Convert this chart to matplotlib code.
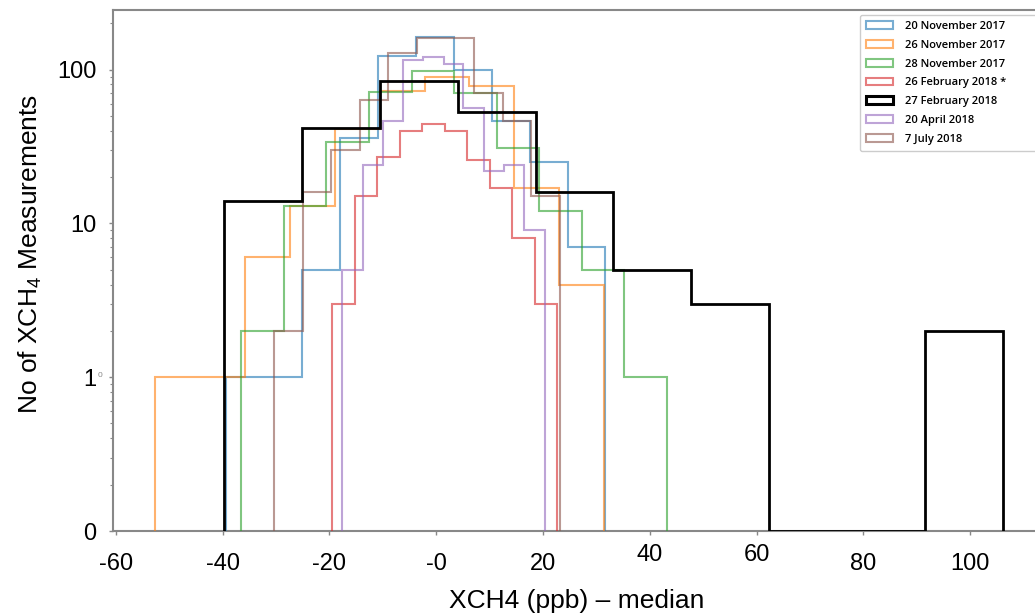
import matplotlib
matplotlib.use("Agg")
import matplotlib.pyplot as plt
import matplotlib.transforms as mtransforms
from matplotlib.patches import Patch
from matplotlib.ticker import LogLocator, NullFormatter
import numpy as np

plt.rcParams["font.family"] = ["Liberation Sans", "DejaVu Sans"]
plt.rcParams["mathtext.default"] = "regular"

# histogram bin edges and counts
labels = [
    "20 November 2017",
    "26 November 2017",
    "28 November 2017",
    "26 February 2018 *",
    "27 February 2018",
    "20 April 2018",
    "7 July 2018",
]

nov20_edges = [-39.3, -32.2, -25.1, -18.0, -10.9, -3.8, 3.3, 10.4, 17.5, 24.6, 31.7]
nov20_counts = [1, 1, 5, 36, 123, 164, 100, 46, 25, 7]

nov26_edges = [-52.6, -44.2, -35.8, -27.4, -19.0, -10.6, -2.2, 6.2, 14.6, 23.0, 31.4]
nov26_counts = [1, 1, 6, 13, 41, 73, 90, 78, 17, 4]

nov28_edges = [-36.5, -28.5, -20.6, -12.6, -4.6, 3.4, 11.3, 19.3, 27.3, 35.2, 43.2]
nov28_counts = [2, 13, 34, 72, 98, 70, 31, 12, 5, 1]

feb26_edges = [-19.5, -15.3, -11.1, -6.8, -2.6, 1.6, 5.8, 10.0, 14.2, 18.5, 22.7]
feb26_counts = [3, 15, 27, 40, 44, 40, 26, 17, 8, 3]

feb27_edges = [-39.8, -25.2, -10.6, 4.0, 18.6, 33.2, 47.8, 62.4, 77.0, 91.6, 106.2]
feb27_counts = [14, 42, 84, 53, 16, 5, 3, 0, 0, 2]

apr20_edges = [-17.6, -13.8, -10.0, -6.2, -2.4, 1.4, 5.1, 8.9, 12.7, 16.5, 20.3]
apr20_counts = [5, 24, 46, 115, 120, 108, 56, 22, 24, 9]

jul07_edges = [-30.4, -25.0, -19.7, -14.3, -9.0, -3.6, 1.8, 7.1, 12.5, 17.8, 23.2]
jul07_counts = [2, 16, 30, 63, 129, 161, 161, 70, 46, 15]

colors = ["#1f77b4", "#ff7f0e", "#2ca02c", "#d62728", "black", "#9467bd", "#8c564b"]

x_ticks = [-60, -40, -20, 0, 20, 40, 60, 80, 100]
x_tick_labels = ["-60", "-40", "-20", "-0", "20", "40", "60", "80", "100"]
y_ticks = [0.1, 1, 10, 100]
y_tick_labels = ["0", "1", "10", "100"]

YMIN = 0.1

fig = plt.figure(figsize=(10.35, 6.15), dpi=100)
ax = fig.add_axes([113 / 1035, 84 / 615, 926.4 / 1035, 521.3 / 615])

series = [
    (nov20_edges, nov20_counts),
    (nov26_edges, nov26_counts),
    (nov28_edges, nov28_counts),
    (feb26_edges, feb26_counts),
    (feb27_edges, feb27_counts),
    (apr20_edges, apr20_counts),
    (jul07_edges, jul07_counts),
]

handles = []
for (edges, counts), color, label in zip(series, colors, labels):
    vals = np.maximum(np.array(counts, dtype=float), YMIN)
    if color == "black":
        ax.stairs(vals, edges, baseline=YMIN, color="black", lw=2.0, zorder=5)
        handles.append(Patch(facecolor="none", edgecolor="black", lw=2.2, label=label))
    else:
        ax.stairs(vals, edges, baseline=YMIN, color=color, lw=1.5, alpha=0.6, zorder=3)
        handles.append(Patch(facecolor="none", edgecolor=color, lw=1.5, alpha=0.6, label=label))

ax.set_yscale("log")
ax.set_ylim(YMIN, 245)
ax.set_xlim(-60.56, 113)

ax.set_yticks(y_ticks)
ax.set_yticklabels(y_tick_labels)
ax.yaxis.set_minor_locator(LogLocator(base=10, subs=np.arange(2, 10) * 0.1 * 10))
ax.yaxis.set_minor_formatter(NullFormatter())
ax.set_xticks(x_ticks)
ax.set_xticklabels(x_tick_labels)

ax.tick_params(axis="both", which="major", labelsize=17, length=3, width=1, color="#888888")
ax.tick_params(axis="y", which="major", pad=9)
ax.tick_params(axis="x", which="major", pad=13)
ax.tick_params(axis="y", which="minor", length=2, width=0.8, color="#888888")

# the "40" and "60" labels sit a bit higher in the original
for lbl in ax.get_xticklabels():
    if lbl.get_text() in ("40", "60"):
        lbl.set_transform(lbl.get_transform() + mtransforms.ScaledTranslation(0, 9 / 100, fig.dpi_scale_trans))

for side in ["top", "left", "bottom"]:
    ax.spines[side].set_color("#888888")
    ax.spines[side].set_linewidth(1.5)
ax.spines["right"].set_visible(False)

ax.annotate("0", xy=(0, 1), xycoords=ax.get_yaxis_transform(), xytext=(-9.5, 1),
            textcoords="offset points", fontsize=6, color="#888888", ha="center", va="center")

ax.set_xlabel("XCH4 (ppb) \u2013 median", fontsize=19, labelpad=10)
ax.set_ylabel("No of XCH$_4$ Measurements", fontsize=19, labelpad=9, y=0.531)

# legend box runs off the right edge of the picture in the original
leg = ax.legend(handles=handles, loc="upper left",
                bbox_to_anchor=(860 / 1035, 1 - 15 / 615, 200 / 1035, 0.0),
                bbox_transform=fig.transFigure, mode="expand", borderaxespad=0, borderpad=0.55,
                prop={"family": "Open Sans", "weight": "semibold", "size": 8},
                handlelength=2.4, handleheight=0.7, handletextpad=1.1, labelspacing=0.7,
                frameon=True, framealpha=1, edgecolor="#cccccc")
leg.get_frame().set_linewidth(1.0)

fig.savefig("out.png", dpi=100)
